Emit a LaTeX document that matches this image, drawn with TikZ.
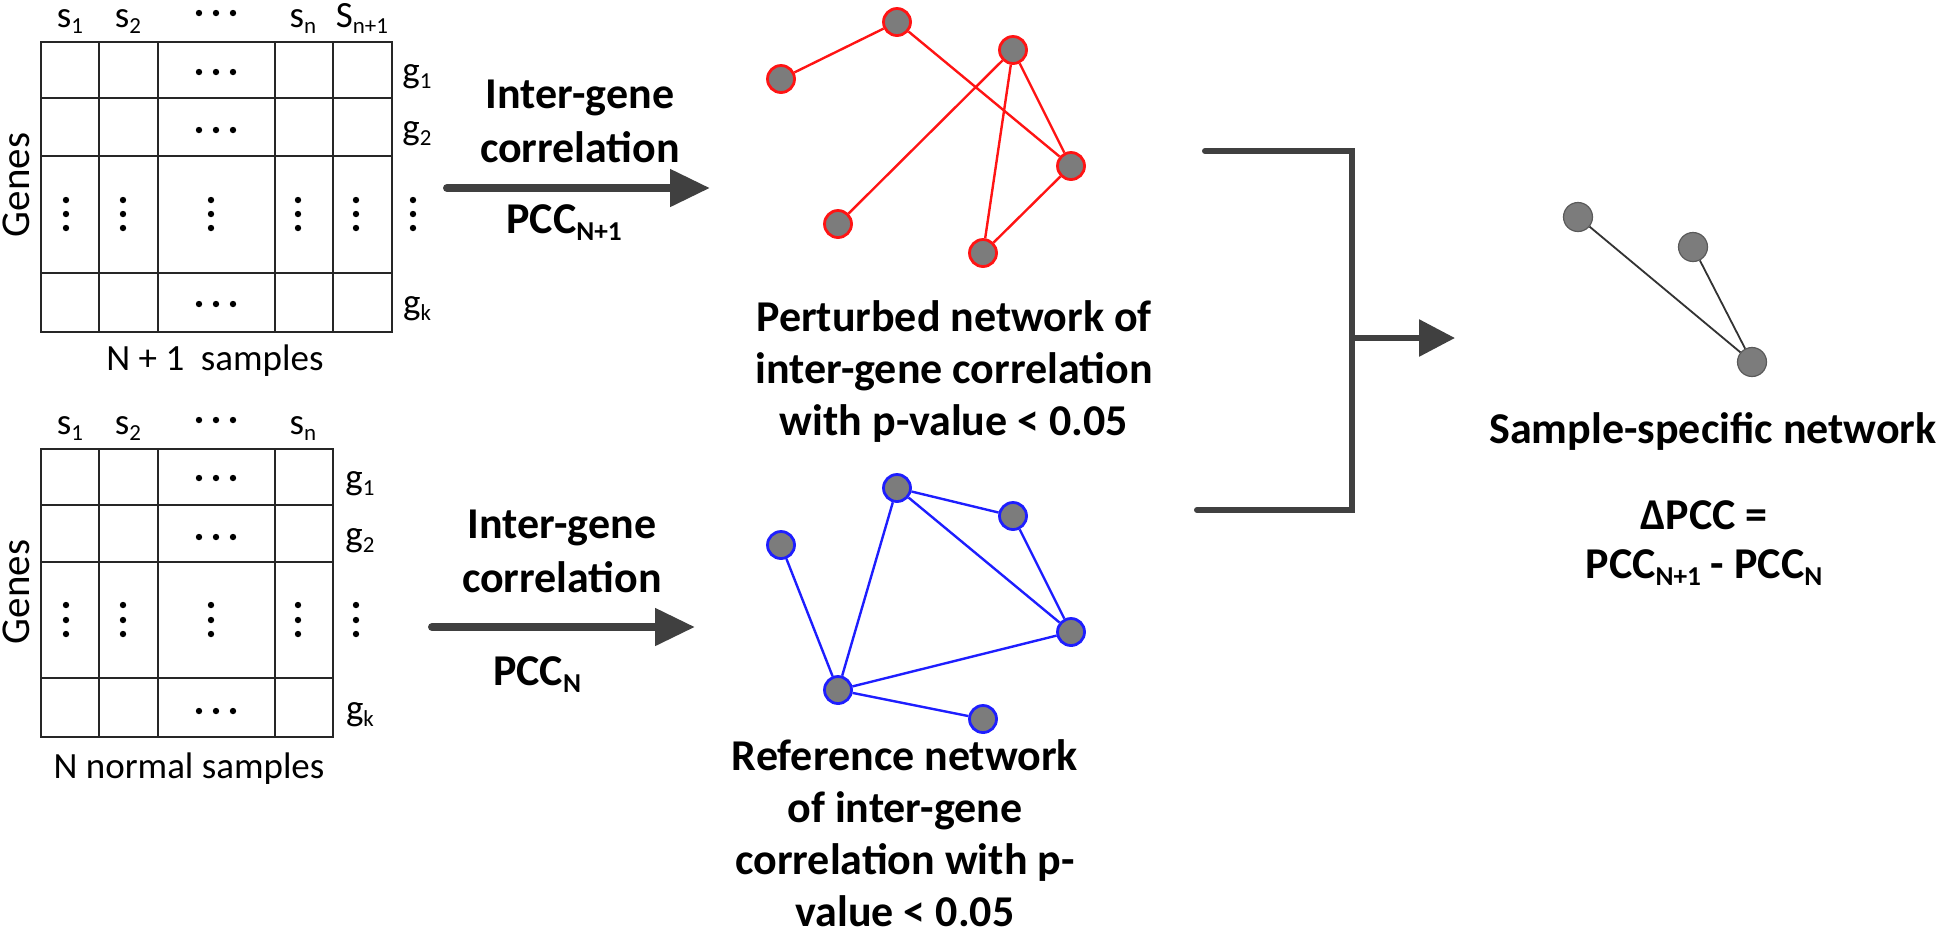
\documentclass[tikz,border=0pt]{standalone}
\usepackage{fontspec}
\setmainfont{Carlito}
\usepackage{graphicx}
\usetikzlibrary{arrows.meta}
\definecolor{arrowgray}{HTML}{404040}
\definecolor{gridcol}{HTML}{262626}
\definecolor{nodegray}{HTML}{7C7C7C}
\definecolor{netred}{HTML}{FF1414}
\definecolor{netblue}{HTML}{1E1EFF}
\definecolor{kborder}{HTML}{5A5A5A}
\newcommand\lo[1]{\raisebox{-0.17em}{\scalebox{0.62}{#1}}}
\begin{document}
\begin{tikzpicture}[x=0.5pt,y=-0.5pt,
  lab/.style={font=\fontsize{18.5pt}{22pt}\selectfont, inner sep=0, anchor=base},
  genes/.style={font=\fontsize{20.5pt}{24pt}\selectfont, inner sep=0, anchor=center, rotate=90},
  big/.style={font=\bfseries\fontsize{22pt}{26pt}\selectfont, inner sep=0, align=center},
  arrlab/.style={font=\bfseries\fontsize{22pt}{27pt}\selectfont, inner sep=0, align=center},
  grid/.style={draw=gridcol, line width=1.25pt},
  rnode/.style={circle, fill=nodegray, draw=netred, line width=1.4pt, minimum size=13.5pt, inner sep=0},
  bnode/.style={circle, fill=nodegray, draw=netblue, line width=1.4pt, minimum size=13.5pt, inner sep=0},
  knode/.style={circle, fill=nodegray, draw=kborder, line width=0.6pt, minimum size=14.5pt, inner sep=0},
  redge/.style={draw=netred, line width=1.2pt},
  bedge/.style={draw=netblue, line width=1.2pt},
  kedge/.style={draw=black!80, line width=0.9pt},
  bigarrow/.style={draw=arrowgray, line width=4pt, line cap=round, -{Triangle[length=20pt,width=18pt]}},
  brarrow/.style={draw=arrowgray, line width=3pt, -{Triangle[length=18pt,width=18pt]}},
  bracket/.style={draw=arrowgray, line width=3pt, line cap=round},
]
\useasboundingbox (0,0) rectangle (1943,934);

% ---------- top matrix ----------
\draw[grid] (41,42) rectangle (392,332);
\foreach \x in {99,158,275,333} \draw[grid] (\x,42) -- (\x,332);
\foreach \y in {98,156,273} \draw[grid] (41,\y) -- (392,\y);
\foreach \y in {13,72,130,304} \foreach \x in {199,216,233} \fill (\x,\y) circle (1.6pt);
\foreach \x in {66,123,211,298,356,413} \foreach \y in {200,214,228} \fill (\x,\y) circle (1.6pt);

\node[lab] (ts1) at (70,27) {s\lo{1}};
\node[lab] (ts2) at (128,27) {s\lo{2}};
\node[lab] (tsn) at (303,27) {s\lo{n}};
\node[lab] (tsn1) at (362,27) {S\lo{n+1}};
\node[lab] (tg1) at (417,82) {g\lo{1}};
\node[lab] (tg2) at (417,139) {g\lo{2}};
\node[lab] (tgk) at (417,314) {g\lo{k}};
\node[genes] (tgenes) at (16,185) {Genes};
\node[lab] (tsamp) at (215,370) {N + 1\ \ samples};

% ---------- bottom matrix ----------
\draw[grid] (41,449) rectangle (333,737);
\foreach \x in {99,158,275} \draw[grid] (\x,449) -- (\x,737);
\foreach \y in {505,562,678} \draw[grid] (41,\y) -- (333,\y);
\foreach \y in {420,478,537,711} \foreach \x in {199,216,233} \fill (\x,\y) circle (1.6pt);
\foreach \x in {66,123,211,298,356} \foreach \y in {605,620,634} \fill (\x,\y) circle (1.6pt);

\node[lab] (bs1) at (70,434) {s\lo{1}};
\node[lab] (bs2) at (128,434) {s\lo{2}};
\node[lab] (bsn) at (303,434) {s\lo{n}};
\node[lab] (bg1) at (360,489) {g\lo{1}};
\node[lab] (bg2) at (360,546) {g\lo{2}};
\node[lab] (bgk) at (360,720) {g\lo{k}};
\node[genes] (bgenes) at (16,592) {Genes};
\node[lab] (bsamp) at (189,778) {N normal samples};

% ---------- arrows from matrices ----------
\coordinate (a1s) at (447,188);
\coordinate (a1e) at (710,188);
\draw[bigarrow] (a1s) -- (a1e);
\node[arrlab, anchor=south] (ig1) at (580,163) {Inter-gene\\correlation};
\node[big, anchor=base] (pcc1) at (564,233) {PCC\lo{N+1}};

\coordinate (a2s) at (432,627);
\coordinate (a2e) at (695,627);
\draw[bigarrow] (a2s) -- (a2e);
\node[arrlab, anchor=south] (ig2) at (562,593) {Inter-gene\\correlation};
\node[big, anchor=base] (pcc2) at (537,685) {PCC\lo{N}};

% ---------- perturbed network ----------
\node[rnode] (n1) at (781,79) {};
\node[rnode] (n2) at (897,22) {};
\node[rnode] (n3) at (1013,50) {};
\node[rnode] (n4) at (1071,166) {};
\node[rnode] (n5) at (838,224) {};
\node[rnode] (n6) at (983,253) {};
\draw[redge] (n1) -- (n2);
\draw[redge] (n2) -- (n4);
\draw[redge] (n3) -- (n5);
\draw[redge] (n3) -- (n6);
\draw[redge] (n3) -- (n4);
\draw[redge] (n4) -- (n6);
\node[big] (ptext) at (954,372) {Perturbed network of\\inter-gene correlation\\with p-value < 0.05};

% ---------- reference network ----------
\node[bnode] (b1) at (897,488) {};
\node[bnode] (b2) at (1013,516) {};
\node[bnode] (b3) at (781,545) {};
\node[bnode] (b4) at (1071,632) {};
\node[bnode] (b5) at (838,690) {};
\node[bnode] (b6) at (983,719) {};
\draw[bedge] (b1) -- (b2);
\draw[bedge] (b1) -- (b5);
\draw[bedge] (b1) -- (b4);
\draw[bedge] (b2) -- (b4);
\draw[bedge] (b3) -- (b5);
\draw[bedge] (b5) -- (b4);
\draw[bedge] (b5) -- (b6);
\node[big] (rtext) at (905,833) {Reference network\\of inter-gene\\correlation with p-\\value < 0.05};

% ---------- bracket ----------
\coordinate (brt) at (1205,151);
\coordinate (brtc) at (1352,151);
\coordinate (brbc) at (1352,510);
\coordinate (brb) at (1197,510);
\coordinate (brm) at (1352,338);
\coordinate (brend) at (1455,338);
\draw[bracket] (brt) -- (brtc) -- (brbc) -- (brb);
\draw[brarrow] (brm) -- (brend);

% ---------- sample-specific network ----------
\node[knode] (r1) at (1578,217) {};
\node[knode] (r2) at (1693,247) {};
\node[knode] (r3) at (1752,362) {};
\draw[kedge] (r1) -- (r3);
\draw[kedge] (r2) -- (r3);
\node[big, anchor=base] (stext) at (1713,443) {Sample-specific network};
\node[big, font=\bfseries\fontsize{22pt}{24.5pt}\selectfont] (dtext) at (1704,543) {ΔPCC =\\PCC\lo{N+1} - PCC\lo{N}};
\end{tikzpicture}
\end{document}
